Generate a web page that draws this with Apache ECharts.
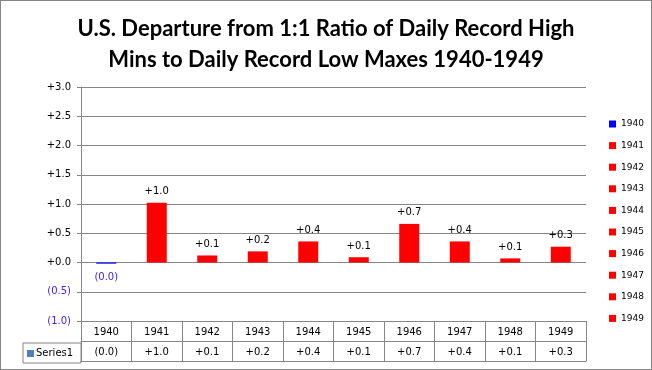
<!DOCTYPE html>
<html>
<head>
<meta charset="utf-8">
<script src="https://cdn.jsdelivr.net/npm/echarts@6/dist/echarts.min.js"></script>
<style>
html,body{margin:0;padding:0;background:#fff;}
#c{width:652px;height:370px;box-sizing:border-box;border:1px solid #868686;}
</style>
</head>
<body>
<div id="c"></div>
<script>
var categories = ['1940','1941','1942','1943','1944','1945','1946','1947','1948','1949'];
var values = [-0.02, 1.02, 0.12, 0.19, 0.36, 0.09, 0.66, 0.36, 0.07, 0.27];
var barColors = ['#0000ff','#ff0000','#ff0000','#ff0000','#ff0000','#ff0000','#ff0000','#ff0000','#ff0000','#ff0000'];
var yTicks = { min: -1, max: 3, interval: 0.5 };
var seriesName = 'Series1';

var NEG = '#3f22f0';
function fmt(v){
  var a = Math.abs(v).toFixed(1);
  return v < 0 ? '(' + a + ')' : '+' + a;
}
var FONT = 'DejaVu Sans';
var GRAY = '#868686';

var chart = echarts.init(document.getElementById('c'), null, {renderer:'canvas'});

var series = categories.map(function(cat, i){
  var d = categories.map(function(_, j){ return j === i ? values[i] : '-'; });
  var neg = values[i] < 0;
  return {
    name: cat,
    type: 'bar',
    stack: 'all',
    barWidth: 20,
    data: d,
    itemStyle: { color: barColors[i] },
    label: {
      show: true,
      position: neg ? 'bottom' : 'top',
      distance: neg ? 9 : 6,
      color: neg ? NEG : '#000',
      fontFamily: FONT,
      fontSize: 10,
      formatter: function(p){ return fmt(p.value); }
    },
    emphasis: { disabled: true }
  };
});

var option = {
  animation: false,
  title: {
    text: 'U.S. Departure from 1:1 Ratio of Daily Record High\nMins to Daily Record Low Maxes 1940-1949',
    left: 'center',
    top: 7,
    textStyle: { fontFamily: 'Lato', fontWeight: 'bold', fontSize: 22, lineHeight: 31, color: '#000' }
  },
  legend: {
    orient: 'vertical',
    left: 603,
    top: 112,
    icon: 'rect',
    itemWidth: 7,
    itemHeight: 7,
    itemGap: 9.6,
    textStyle: { fontFamily: FONT, fontSize: 9, color: '#000', lineHeight: 12 },
    data: categories,
    selectedMode: false
  },
  grid: { left: 80, right: 65, top: 86, bottom: 48, containLabel: false },
  xAxis: [
    {
      type: 'category',
      data: categories,
      position: 'bottom',
      axisLine: { show: true, onZero: false, lineStyle: { color: GRAY, width: 1 } },
      axisTick: { show: true, length: 40, lineStyle: { color: GRAY } },
      axisLabel: { fontFamily: FONT, fontSize: 10, color: '#000', margin: 5, lineHeight: 12 },
      splitLine: { show: false }
    },
    {
      type: 'category',
      data: values.map(fmt),
      position: 'bottom',
      offset: 20,
      axisLine: { show: true, onZero: false, lineStyle: { color: GRAY, width: 1 } },
      axisTick: { show: false },
      axisLabel: { fontFamily: FONT, fontSize: 10, color: '#000', margin: 5, lineHeight: 12 },
      splitLine: { show: false }
    },
    {
      type: 'category',
      data: categories,
      position: 'bottom',
      offset: 40,
      axisLine: { show: true, onZero: false, lineStyle: { color: GRAY, width: 1 } },
      axisTick: { show: false },
      axisLabel: { show: false },
      splitLine: { show: false }
    }
  ],
  yAxis: {
    type: 'value',
    min: yTicks.min,
    max: yTicks.max,
    interval: yTicks.interval,
    axisLine: { show: true, lineStyle: { color: GRAY } },
    axisTick: { show: true, length: 4, lineStyle: { color: GRAY } },
    splitLine: { show: true, lineStyle: { color: GRAY, width: 1 } },
    axisLabel: {
      fontFamily: FONT,
      fontSize: 10,
      margin: 10,
      formatter: function(v){
        return v < 0 ? '{n|' + fmt(v) + '}' : fmt(v);
      },
      color: '#000',
      rich: { n: { color: NEG, fontFamily: FONT, fontSize: 10 } }
    }
  },
  graphic: [
    {
      type: 'rect',
      shape: { x: 22, y: 342, width: 58, height: 20 },
      style: { fill: 'none', stroke: GRAY, lineWidth: 1 }
    },
    {
      type: 'rect',
      shape: { x: 26, y: 349, width: 7, height: 7 },
      style: { fill: '#4f81bd' }
    },
    {
      type: 'text',
      x: 35,
      y: 352,
      style: { text: seriesName, fontFamily: FONT, fontSize: 10, fill: '#000', textVerticalAlign: 'middle' }
    }
  ],
  series: series
};
chart.setOption(option);
</script>
</body>
</html>
